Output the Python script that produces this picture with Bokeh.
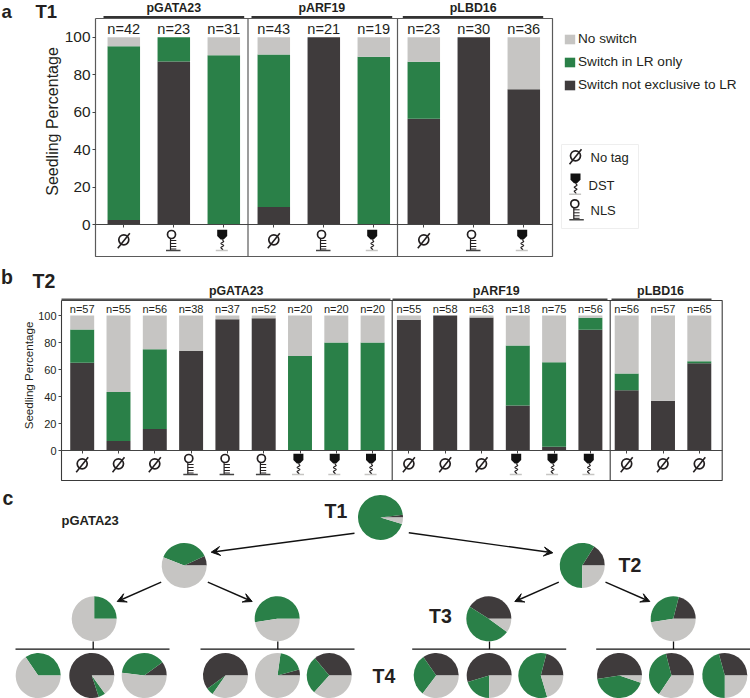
from bokeh.plotting import figure
from bokeh.layouts import column
from bokeh.models import (ColumnDataSource, FixedTicker, Legend, LegendItem, Arrow, VeeHead)
from bokeh.core.properties import value
from bokeh.embed import file_html
from bokeh.resources import INLINE
import math

DARK, GREEN, GRAY = "#3f3b3c", "#2a8048", "#c6c5c3"
INK = "#231f20"
FONT = "Liberation Sans"

# panel a (T1)
a_n = [42, 23, 31, 43, 21, 19, 23, 30, 36]
a_dark = [2.4, 87.0, 0, 9.3, 100, 0, 56.5, 100, 72.2]
a_green = [92.8, 13.0, 90.3, 81.4, 0, 89.5, 30.4, 0, 0]
a_icons = ["none", "nls", "dst", "none", "nls", "dst", "none", "nls", "dst"]
a_groups = ["pGATA23", "pARF19", "pLBD16"]

# panel b (T2)
b_n = [57, 55, 56, 38, 37, 52, 20, 20, 20, 55, 58, 63, 18, 75, 56, 56, 57, 65]
b_dark = [65, 7, 16, 73.7, 97.3, 98, 0, 0, 0, 96.8, 100, 98.5, 33.3, 2.7, 89.4, 44.6, 36.8, 64.6]
b_green = [24.6, 36.4, 59, 0, 0, 0, 70, 80, 80, 0, 0, 0, 44.5, 62.7, 8.9, 12.5, 0, 1.6]
b_icons = ["none"] * 3 + ["nls"] * 3 + ["dst"] * 3 + ["none"] * 3 + ["dst"] * 3 + ["none"] * 3

# panel c: pies (dark, green, gray), percent
t1_pie = [2, 93.3, 4.7]
t2_pies = [[7, 37, 56], [16, 59, 25]]
t3_pies = [[0, 25, 75], [0, 52.5, 47.5], [41, 49, 10], [21, 31.4, 47.6]]
t4_pies = [[0, 34.5, 65.5], [80, 5, 15], [10, 38, 52],
           [60, 5.3, 34.7], [4.3, 18.5, 77.2], [36, 27.4, 36.6],
           [34.7, 30, 35.3], [54.7, 20.3, 25], [21, 58.6, 20.4],
           [52.4, 42.3, 5.3], [29, 36.6, 34.4], [29.3, 45.7, 25]]

legend_labels = ["No switch", "Switch in LR only", "Switch not exclusive to LR"]
W = 750


def make_fig(h, first_px, step, y0_px, ppu):
    xr = (1 - first_px / step, 1 + (W - first_px) / step)
    yr = (-(h - y0_px) / ppu, y0_px / ppu)
    p = figure(width=W, height=h, x_range=xr, y_range=yr, toolbar_location=None,
               output_backend="svg", min_border=0, outline_line_color=None,
               background_fill_color="white")
    p.grid.visible = False
    return p, (lambda v: 1 + (v - first_px) / step)


def add_text(p, ax, ay, xs, ys, texts, size, bold=False, align="center", base="middle", color=INK):
    src = ColumnDataSource(dict(x=[ax(v) for v in xs], y=[ay(v) for v in ys], t=texts))
    p.text("x", "y", text="t", source=src, text_font=value(FONT), text_font_size=size,
           text_font_style="bold" if bold else "normal", text_align=align,
           text_baseline=base, text_color=color)


def icon_parts(kind, ox, oy):
    lines = []     # (xs, ys, color, width)
    rings = []
    shields = []
    if kind == "none":
        rings.append((ox, oy + 15.3, 10))
        lines.append(([ox - 6, ox + 6], [oy + 23.7, oy + 8.7], INK, 1.6))
    elif kind == "nls":
        rings.append((ox - 2.3, oy + 10, 8))
        lines.append(([ox - 3.3, ox - 3.3], [oy + 14, oy + 26], INK, 1.2))
        for d in (16, 19, 22, 24.5):
            lines.append(([ox - 3.3, ox + 2.5], [oy + d, oy + d], INK, 1.0))
        lines.append(([ox - 7.8, ox + 6.7], [oy + 26, oy + 26], "#444444", 1.4))
    else:
        c = ox - 1.6
        shields.append(([c - 5, c + 5, c + 5, c + 1.5, c - 1.5, c - 5],
                        [oy + 5.3, oy + 5.3, oy + 11.5, oy + 15, oy + 15, oy + 11.5]))
        lines.append(([c, c + 1.6, c - 1.4, c + 1.6, c - 1.4, c + 0.8],
                      [oy + 15, oy + 17, oy + 19, oy + 21, oy + 23, oy + 25.5], INK, 1.2))
        lines.append(([ox - 8, ox + 4], [oy + 26, oy + 26], GRAY, 1.4))
    return lines, rings, shields


def draw_icons(p, ax, ay, items):
    lines, rings, shields = [], [], []
    for kind, ox, oy in items:
        l, r, s = icon_parts(kind, ox, oy)
        lines += l
        rings += r
        shields += s
    for xs, ys, col, w in lines:
        p.line([ax(v) for v in xs], [ay(v) for v in ys], line_color=col, line_width=w)
    if rings:
        p.scatter([ax(r[0]) for r in rings], [ay(r[1]) for r in rings], size=[r[2] for r in rings],
                  marker="circle", fill_color=None, line_color=INK, line_width=1.7)
    if shields:
        p.patches([[ax(v) for v in s[0]] for s in shields], [[ay(v) for v in s[1]] for s in shields],
                  fill_color="#111111", line_color=None)


def stacked(p, n, dark, green, width):
    x = list(range(1, n + 1))
    gray = [max(0, round(100 - d - g, 2)) for d, g in zip(dark, green)]
    src = ColumnDataSource(dict(x=x, dark=dark, green=green, gray=gray))
    return p.vbar_stack(["dark", "green", "gray"], x="x", width=width,
                        color=[DARK, GREEN, GRAY], line_color=None, source=src)


def style_axes(p, left_idx, right_idx, n, tick_size, title_size, standoff, y_top):
    ya = p.yaxis[0]
    ya.fixed_location = left_idx
    ya.bounds = (0, y_top)
    ya.ticker = FixedTicker(ticks=[0, 20, 40, 60, 80, 100])
    ya.axis_line_color = None
    ya.major_tick_out = 3
    ya.major_tick_in = 0
    ya.minor_tick_line_color = None
    ya.major_tick_line_color = "#444444"
    ya.major_label_text_font = FONT
    ya.major_label_text_font_size = tick_size
    ya.major_label_text_color = INK
    ya.major_label_standoff = 2
    ya.axis_label = "Seedling Percentage"
    ya.axis_label_text_font = FONT
    ya.axis_label_text_font_size = title_size
    ya.axis_label_text_font_style = "normal"
    ya.axis_label_text_color = INK
    ya.axis_label_standoff = standoff
    xa = p.xaxis[0]
    xa.fixed_location = 0
    xa.bounds = (left_idx, right_idx)
    xa.ticker = FixedTicker(ticks=list(range(1, n + 1)))
    xa.axis_line_color = "#444444"
    xa.major_tick_out = 3
    xa.major_tick_in = 0
    xa.minor_tick_line_color = None
    xa.major_tick_line_color = "#444444"
    xa.major_label_overrides = {i: "" for i in range(1, n + 1)}


# ---------- panel a ----------
HA = 262
Y0A, PPA = 224.0, 1.873
pa, axa = make_fig(HA, 123.3, 50.0, Y0A, PPA)
aya = lambda py: (Y0A - py) / PPA
rs = stacked(pa, 9, a_dark, a_green, 0.65)
style_axes(pa, axa(95), axa(552), 9, "15.4px", "16px", 1, 110)
# frame and dividers
for xs, ys, c, w in [([95, 552, 552, 95, 95], [18, 18, 256, 256, 18], "#5a5a5a", 1.2),
                     ([247.5, 247.5], [18, 256], "#5a5a5a", 1.2),
                     ([397, 397], [18, 256], "#5a5a5a", 1.2),
                     ([103, 243.7], [16.5, 16.5], "#333333", 2.2),
                     ([251, 391.7], [16.5, 16.5], "#333333", 2.2),
                     ([402.3, 542.7], [16.5, 16.5], "#333333", 2.2)]:
    pa.line([axa(v) for v in xs], [aya(v) for v in ys], line_color=c, line_width=w)
add_text(pa, axa, aya, [123.3 + 50 * i for i in range(9)], [28] * 9, [f"n={v}" for v in a_n], "14.6px")
add_text(pa, axa, aya, [173.3, 321.3, 472.7], [7.5] * 3, a_groups, "12.4px", bold=True)
add_text(pa, axa, aya, [1, 35], [10.5, 10.5], ["a", "T1"], "18.5px", bold=True, align="left")
draw_icons(pa, axa, aya, [(k, 123.3 + 50 * i, Y0A) for i, k in enumerate(a_icons)])
legend = Legend(items=[LegendItem(label=legend_labels[0], renderers=[rs[2]]),
                       LegendItem(label=legend_labels[1], renderers=[rs[1]]),
                       LegendItem(label=legend_labels[2], renderers=[rs[0]])],
                location=(563, HA - 92), orientation="vertical",
                glyph_width=13, glyph_height=12, label_standoff=2, spacing=8,
                padding=0, margin=0, label_height=12, label_text_font=FONT,
                label_text_font_size="13.6px", label_text_color=INK,
                background_fill_alpha=0, border_line_color=None)
pa.add_layout(legend)
# icon key
pa.line([axa(v) for v in [561, 638, 638, 561, 561]], [aya(v) for v in [144, 144, 228, 228, 144]],
        line_color="#eeeeee", line_width=1)
draw_icons(pa, axa, aya, [("none", 575, 140), ("dst", 576.6, 167.7), ("nls", 576.6, 193.3)])
add_text(pa, axa, aya, [590, 588, 590], [157, 185, 210], ["No tag", "DST", "NLS"], "13px", align="left")

# ---------- panel b ----------
HB = 224
TOPB = 262
Y0B, PPB = 450.0 - TOPB, 1.35
pb, axb = make_fig(HB, 81.7, 36.3, Y0B, PPB)
ayb = lambda py: (Y0B - (py - TOPB)) / PPB
stacked(pb, 18, b_dark, b_green, 0.66)
style_axes(pb, axb(61), axb(721.7), 18, "11px", "11.6px", 0, 111)
for xs, ys, c, w in [([61, 721.7, 721.7, 61, 61], [300, 300, 480, 480, 300], "#3a3a3a", 1.1),
                     ([391.7, 391.7], [300, 480], "#3a3a3a", 1.1),
                     ([609.7, 609.7], [300, 480], "#3a3a3a", 1.1),
                     ([61, 390], [299, 299], "#555555", 1.8),
                     ([392, 607], [299, 299], "#444444", 1.8),
                     ([611, 711], [299, 299], "#444444", 1.8)]:
    pb.line([axb(v) for v in xs], [ayb(v) for v in ys], line_color=c, line_width=w)
add_text(pb, axb, ayb, [81.7 + 36.3 * i for i in range(18)], [308.5] * 18, [f"n={v}" for v in b_n], "11px")
add_text(pb, axb, ayb, [235.7, 495.7, 660], [290] * 3, a_groups, "12.4px", bold=True)
add_text(pb, axb, ayb, [0.5, 32], [276, 280], ["b", "T2"], "19.5px", bold=True, align="left")
draw_icons(pb, axb, ayb, [(k, 81.7 + 36.3 * i, 450.0 - 2) for i, k in enumerate(b_icons)])

# ---------- panel c ----------
HC = 212
TOPC = 486
pc = figure(width=W, height=HC, x_range=(0, W), y_range=(0, HC), toolbar_location=None,
            output_backend="svg", min_border=0, outline_line_color=None)
pc.axis.visible = False
pc.grid.visible = False
axc = lambda v: v
ayc = lambda py: HC - (py - TOPC)

pie_x = [380] + [183.7, 581.7] + [93.7, 276.7, 488.3, 672.7] + \
        [37.7, 91.3, 143.7, 225, 277, 328.7, 435.7, 488.7, 540.3, 619, 671, 724.3]
pie_y = [517] + [565] * 2 + [618.3] * 4 + [675] * 12
pies = [t1_pie] + t2_pies + t3_pies + t4_pies
wx, wy, ws, we, wc = [], [], [], [], []
for px_, py_, vals in zip(pie_x, pie_y, pies):
    tot = sum(vals)
    ang = 0.0
    for v, col in zip(vals, (DARK, GREEN, GRAY)):
        if v <= 0:
            continue
        nxt = ang + v / tot * 2 * math.pi
        wx.append(px_); wy.append(ayc(py_)); ws.append(ang); we.append(nxt); wc.append(col)
        ang = nxt
pc.wedge(x=wx, y=wy, radius=22.5, start_angle=ws, end_angle=we, fill_color=wc,
         line_color=None, direction="anticlock")

for a0, a1 in [((354, 532.7), (210.7, 551.7)), ((408.3, 532.3), (552.3, 552.3)),
               ((160.7, 581.7), (116.7, 601)), ((207.3, 581.7), (251.7, 601)),
               ((558.3, 581.7), (514.3, 601)), ((605, 581.7), (649.3, 601))]:
    pc.add_layout(Arrow(end=VeeHead(size=9, fill_color="#111111", line_color="#111111"),
                        x_start=a0[0], y_start=ayc(a0[1]), x_end=a1[0], y_end=ayc(a1[1]),
                        line_color="#111111", line_width=1.4))

for x0, x1, stem in [(15, 169, 92.7), (200, 354, 277.3), (411.7, 565.7, 489), (595.7, 750, 673)]:
    pc.line([x0, x1], [ayc(648.7)] * 2, line_color="#111111", line_width=1.3)
    pc.line([stem, stem], [ayc(641), ayc(648.7)], line_color="#111111", line_width=1.3)

add_text(pc, axc, ayc, [2], [497], ["c"], "19.5px", bold=True, align="left")
add_text(pc, axc, ayc, [61], [519.5], ["pGATA23"], "13px", bold=True, align="left")
add_text(pc, axc, ayc, [324, 618, 428.5, 372], [510, 564.5, 615, 675.5],
         ["T1", "T2", "T3", "T4"], "19.5px", bold=True, align="left")

root = column(pa, pb, pc, spacing=0)
open("out.html", "w").write(file_html(root, INLINE))
